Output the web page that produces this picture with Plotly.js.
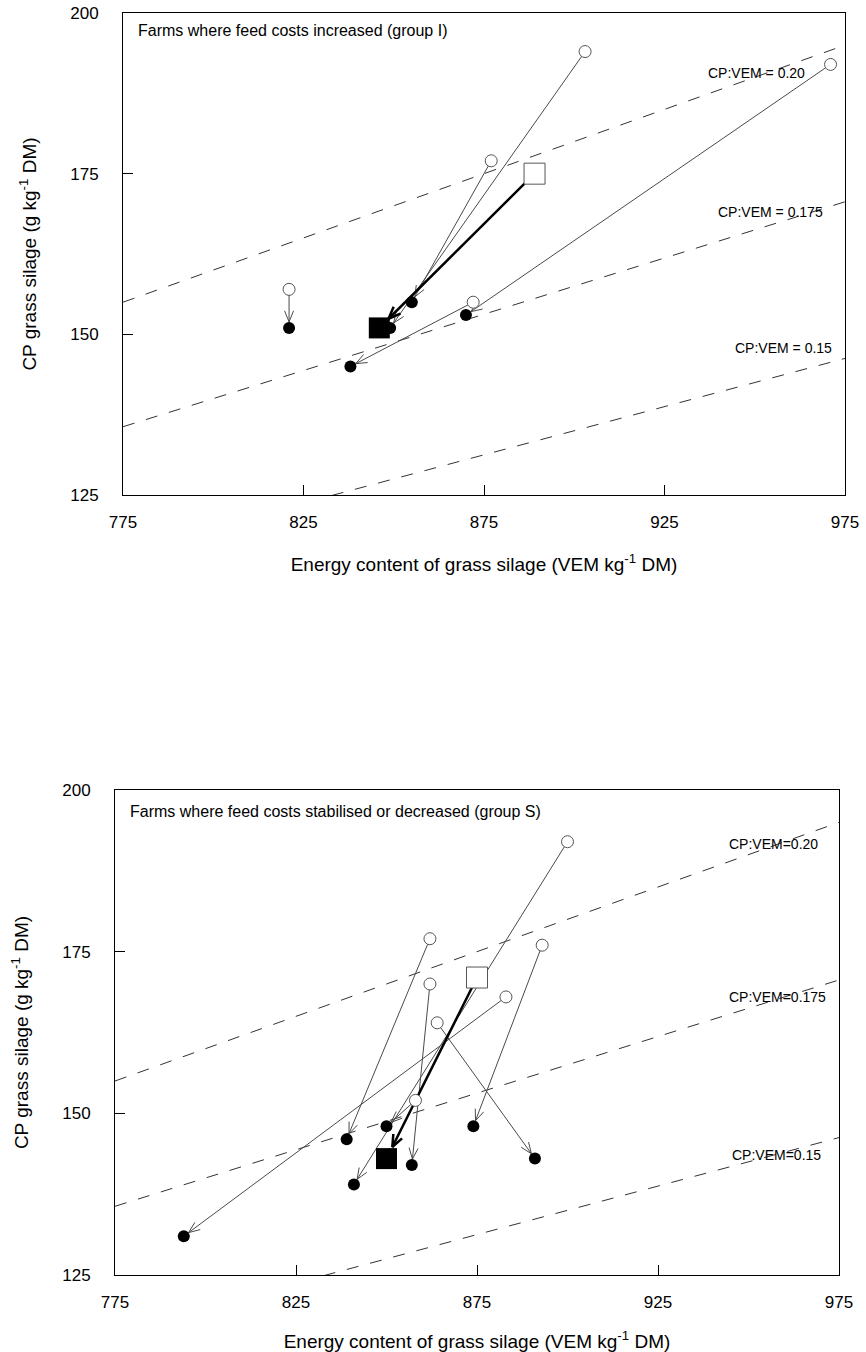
<!DOCTYPE html>
<html>
<head>
<meta charset="utf-8">
<script src="https://cdn.plot.ly/plotly-3.0.1.min.js"></script>
<style>html,body{margin:0;padding:0;background:#fff}#chart{width:866px;height:1352px}</style>
</head>
<body>
<div id="chart"></div>
<script>
// ---- Data: group I (feed costs increased) ----
const groupI_beforeVEM = [903, 877, 821, 971, 872];
const groupI_beforeCP  = [194, 177, 157, 192, 155];
const groupI_afterVEM  = [849, 855, 821, 870, 838];
const groupI_afterCP   = [151, 155, 151, 153, 145];
const groupI_meanBeforeVEM = [889], groupI_meanBeforeCP = [175];
const groupI_meanAfterVEM  = [846], groupI_meanAfterCP  = [151];

// ---- Data: group S (feed costs stabilised or decreased) ----
const groupS_beforeVEM = [900, 862, 862, 893, 864, 883, 858];
const groupS_beforeCP  = [192, 177, 170, 176, 164, 168, 152];
const groupS_afterVEM  = [841, 839, 857, 874, 891, 794, 850];
const groupS_afterCP   = [139, 146, 142, 148, 143, 131, 148];
const groupS_meanBeforeVEM = [875], groupS_meanBeforeCP = [171];
const groupS_meanAfterVEM  = [850], groupS_meanAfterCP  = [143];

// ---- Reference ratio lines CP:VEM ----
const ratios = [0.20, 0.175, 0.15];
const ratioLabelsI = ['CP:VEM = 0.20', 'CP:VEM = 0.175', 'CP:VEM = 0.15'];
const ratioLabelsS = ['CP:VEM=0.20', 'CP:VEM=0.175', 'CP:VEM=0.15'];
const xTicks = [775, 825, 875, 925, 975];
const yTicks = [125, 150, 175, 200];
const xRange = [775, 975], yRange = [125, 200];

const W = 866, H = 1352;
const FONT = 'Liberation Sans, Arial, sans-serif';
const domTop = {x: [123 / W, 845 / W], y: [1 - 495 / H, 1 - 13 / H]};
const domBot = {x: [115 / W, 839 / W], y: [1 - 1275 / H, 1 - 790 / H]};

function scales(dom) {
  return {
    sx: (dom.x[1] - dom.x[0]) * W / (xRange[1] - xRange[0]),
    sy: (dom.y[1] - dom.y[0]) * H / (yRange[1] - yRange[0])
  };
}

// Builds arrow shafts and V-shaped heads from data pairs
function arrows(x0s, y0s, x1s, y1s, dom, standoff, L, angDeg) {
  const {sx, sy} = scales(dom);
  const a = angDeg * Math.PI / 180;
  const lx = [], ly = [], hx = [], hy = [];
  for (let i = 0; i < x0s.length; i++) {
    const dxp = (x1s[i] - x0s[i]) * sx, dyp = (y1s[i] - y0s[i]) * sy;
    const len = Math.hypot(dxp, dyp);
    const ux = dxp / len, uy = dyp / len;
    const tx = x1s[i] - ux * standoff / sx, ty = y1s[i] - uy * standoff / sy;
    lx.push(x0s[i], tx, null); ly.push(y0s[i], ty, null);
    const w = [a, -a].map(t => {
      const rx = ux * Math.cos(t) - uy * Math.sin(t);
      const ry = ux * Math.sin(t) + uy * Math.cos(t);
      return [tx - rx * L / sx, ty - ry * L / sy];
    });
    hx.push(w[0][0], tx, w[1][0], null); hy.push(w[0][1], ty, w[1][1], null);
  }
  return {lx, ly, hx, hy};
}

function panelTraces(xa, ya, dom, bV, bC, aV, aC, mbV, mbC, maV, maC) {
  const tr = [];
  ratios.forEach(r => {
    tr.push({x: xRange, y: xRange.map(v => r * v), mode: 'lines', xaxis: xa, yaxis: ya,
      line: {color: '#333', width: 1, dash: '12px,12px'}, hoverinfo: 'skip', showlegend: false});
  });
  const ar = arrows(bV, bC, aV, aC, dom, 6, 12, 22);
  tr.push({x: ar.lx, y: ar.ly, mode: 'lines', xaxis: xa, yaxis: ya,
    line: {color: '#4a4a4a', width: 1}, showlegend: false, hoverinfo: 'skip'});
  tr.push({x: ar.hx, y: ar.hy, mode: 'lines', xaxis: xa, yaxis: ya,
    line: {color: '#4a4a4a', width: 1}, showlegend: false, hoverinfo: 'skip'});
  const am = arrows(mbV, mbC, maV, maC, dom, 13, 13, 22);
  tr.push({x: am.lx, y: am.ly, mode: 'lines', xaxis: xa, yaxis: ya,
    line: {color: '#000', width: 2.5}, showlegend: false, hoverinfo: 'skip'});
  tr.push({x: am.hx, y: am.hy, mode: 'lines', xaxis: xa, yaxis: ya,
    line: {color: '#000', width: 2.5}, showlegend: false, hoverinfo: 'skip'});
  tr.push({x: bV, y: bC, mode: 'markers', xaxis: xa, yaxis: ya, showlegend: false,
    marker: {symbol: 'circle', size: 12, color: '#fff', line: {color: '#555', width: 1}}});
  tr.push({x: aV, y: aC, mode: 'markers', xaxis: xa, yaxis: ya, showlegend: false,
    marker: {symbol: 'circle', size: 12, color: '#000', line: {width: 0}}});
  tr.push({x: mbV, y: mbC, mode: 'markers', xaxis: xa, yaxis: ya, showlegend: false,
    marker: {symbol: 'square', size: 21, color: '#fff', line: {color: '#555', width: 1}}});
  tr.push({x: maV, y: maC, mode: 'markers', xaxis: xa, yaxis: ya, showlegend: false,
    marker: {symbol: 'square', size: 21, color: '#000', line: {width: 0}}});
  return tr;
}

const data = [].concat(
  panelTraces('x', 'y', domTop, groupI_beforeVEM, groupI_beforeCP, groupI_afterVEM, groupI_afterCP,
    groupI_meanBeforeVEM, groupI_meanBeforeCP, groupI_meanAfterVEM, groupI_meanAfterCP),
  panelTraces('x2', 'y2', domBot, groupS_beforeVEM, groupS_beforeCP, groupS_afterVEM, groupS_afterCP,
    groupS_meanBeforeVEM, groupS_meanBeforeCP, groupS_meanAfterVEM, groupS_meanAfterCP)
);

function xAxis(dom, anchor) {
  return {domain: dom.x, anchor: anchor, range: xRange, tickvals: xTicks, ticktext: xTicks.map(String),
    ticks: 'inside', ticklen: 10, tickcolor: '#000', showline: true, mirror: true, linecolor: '#000',
    linewidth: 1, showgrid: false, zeroline: false, ticklabelstandoff: 12,
    tickfont: {family: FONT, size: 17, color: '#000'},
    title: {text: 'Energy content of grass silage (VEM kg<sup>-1</sup> DM)', standoff: 26,
      font: {family: FONT, size: 19, color: '#000'}}};
}
function yAxis(dom, anchor) {
  return {domain: dom.y, anchor: anchor, range: yRange, tickvals: yTicks, ticktext: yTicks.map(String),
    ticks: 'inside', ticklen: 10, tickcolor: '#000', showline: true, mirror: true, linecolor: '#000',
    linewidth: 1, showgrid: false, zeroline: false, ticklabelstandoff: 20,
    tickfont: {family: FONT, size: 17, color: '#000'},
    title: {text: 'CP grass silage (g kg<sup>-1</sup> DM)', standoff: 28,
      font: {family: FONT, size: 19, color: '#000'}}};
}

const labelPosI = [[950.6, 190.7], [954.5, 169.1], [958.1, 147.8]];
const labelPosS = [[957, 191.6], [957.9, 168], [957.6, 143.6]];
const annotations = [];
ratioLabelsI.forEach((t, i) => annotations.push({xref: 'x', yref: 'y', x: labelPosI[i][0], y: labelPosI[i][1],
  text: t, showarrow: false, font: {family: FONT, size: 14, color: '#000'}}));
ratioLabelsS.forEach((t, i) => annotations.push({xref: 'x2', yref: 'y2', x: labelPosS[i][0], y: labelPosS[i][1],
  text: t, showarrow: false, font: {family: FONT, size: 14, color: '#000'}}));
annotations.push({xref: 'paper', yref: 'paper', x: 136 / W, y: 1 - 31 / H, xanchor: 'left', yanchor: 'middle',
  text: 'Farms where feed costs increased (group I)', showarrow: false, font: {family: FONT, size: 16, color: '#000'}});
annotations.push({xref: 'paper', yref: 'paper', x: 128 / W, y: 1 - 811 / H, xanchor: 'left', yanchor: 'middle',
  text: 'Farms where feed costs stabilised or decreased (group S)', showarrow: false, font: {family: FONT, size: 16, color: '#000'}});

const layout = {
  width: W, height: H, margin: {l: 0, r: 0, t: 0, b: 0}, paper_bgcolor: '#fff', plot_bgcolor: '#fff',
  showlegend: false, font: {family: FONT, color: '#000'},
  xaxis: xAxis(domTop, 'y'), yaxis: yAxis(domTop, 'x'),
  xaxis2: xAxis(domBot, 'y2'), yaxis2: yAxis(domBot, 'x2'),
  annotations: annotations
};

Plotly.newPlot('chart', data, layout, {staticPlot: true, displayModeBar: false});
</script>
</body>
</html>
